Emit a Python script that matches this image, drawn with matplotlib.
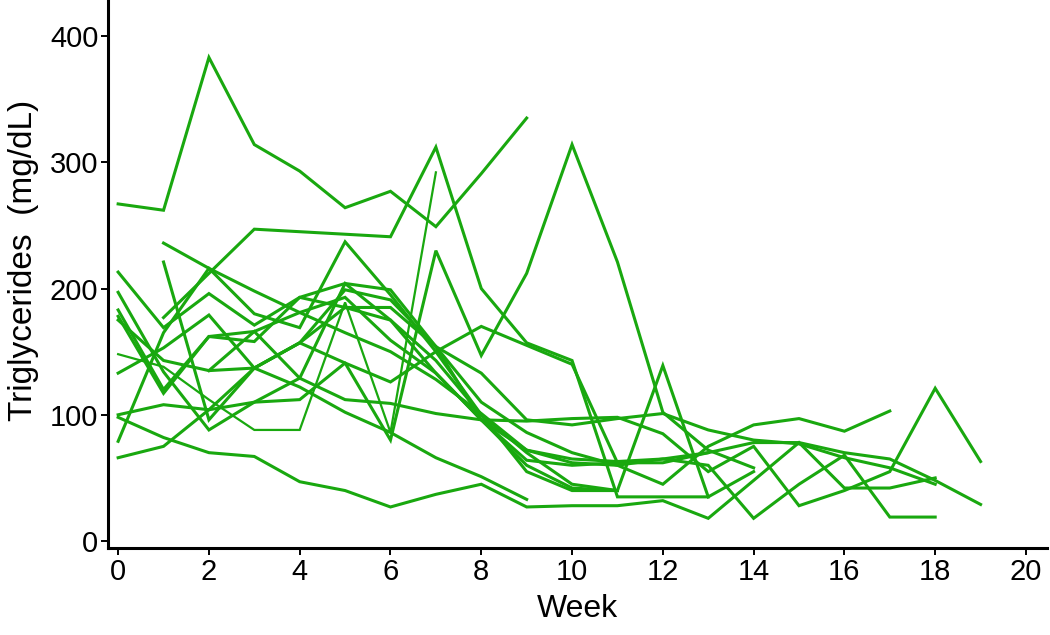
import numpy as np
import matplotlib.pyplot as plt

plt.rcParams['font.family'] = ['Liberation Sans', 'DejaVu Sans']

# triglyceride values (mg/dL) per subject, one value per week from its start week
start_01 = 0
tg_01 = [267, 262, 383, 314, 293, 264, 277, 249, 291, 335]
start_02 = 1
tg_02 = [177, 212, 247, 245, 243, 241, 312, 200, 157, 143, 35, 35, 35]
start_03 = 0
tg_03 = [213, 169, 196, 171, 193, 185, 175, 133, 96, 64, 60, 62]
start_04 = 1
tg_04 = [236, 216, 198, 181, 165, 150, 128, 101, 72, 62, 60, 45, 75, 92, 97, 87, 103]
start_05 = 1
tg_05 = [221, 96, 137, 157, 199, 191, 154, 96, 60, 42, 40]
start_06 = 0
tg_06 = [197, 134, 88, 110, 129, 204, 175, 143, 100, 55, 40, 40]
start_07 = 0
tg_07 = [183, 120, 162, 166, 181, 193, 159, 133, 96, 72, 65, 63, 65, 70, 78, 78, 70, 65, 48, 29]
start_08 = 0
tg_08 = [175, 143, 135, 137, 157, 141, 80, 230, 147, 212, 314, 221, 102, 72, 58]
start_09 = 0
tg_09 = [148, 138, 112, 88, 88, 189, 86, 292]
start_10 = 0
tg_10 = [133, 153, 179, 137, 122, 102, 86, 66, 51, 33]
start_11 = 0
tg_11 = [100, 108, 104, 110, 112, 141, 126, 150, 170, 155, 140, 62, 62, 70]
start_12 = 0
tg_12 = [98, 82, 70, 67, 47, 40, 27, 37, 45, 27, 28, 28, 32, 18, 48, 78, 42, 42, 50]
start_13 = 0
tg_13 = [79, 165, 216, 180, 169, 237, 195, 150, 100, 70, 45, 40, 139, 35, 55]
start_14 = 0
tg_14 = [66, 75, 104, 137, 157, 185, 185, 154, 133, 96, 92, 97, 101, 88, 80, 77, 66, 58, 45]
start_15 = 0
tg_15 = [178, 117, 162, 158, 193, 204, 199, 154, 110, 86, 70, 60, 65, 60, 18, 45, 68, 19, 19]
start_16 = 2
tg_16 = [135, 166, 129, 112, 109, 101, 96, 95, 97, 98, 85, 55, 75, 28, 40, 55, 121, 63]

subjects = [
    (start_01, tg_01), (start_02, tg_02), (start_03, tg_03), (start_04, tg_04),
    (start_05, tg_05), (start_06, tg_06), (start_07, tg_07), (start_08, tg_08),
    (start_09, tg_09), (start_10, tg_10), (start_11, tg_11), (start_12, tg_12),
    (start_13, tg_13), (start_14, tg_14), (start_15, tg_15), (start_16, tg_16),
]
thin = [9]  # subject drawn with a thinner stroke

fig = plt.figure(figsize=(10.5, 6.35), dpi=100)
ax = fig.add_axes([0.103, 0.137, 0.894, 0.863])

green = '#19a80f'
for i, (s, vals) in enumerate(subjects, start=1):
    weeks = np.arange(s, s + len(vals))
    lw = 1.6 if i in thin else 2.2
    ax.plot(weeks, vals, color=green, lw=lw, solid_joinstyle='miter')

ax.set_xlim(-0.22, 20.46)
ax.set_ylim(-5.5, 428.5)
ax.set_xticks(range(0, 21, 2))
ax.set_yticks(range(0, 401, 100))
ax.spines['top'].set_visible(False)
ax.spines['right'].set_visible(False)
for sp in ('left', 'bottom'):
    ax.spines[sp].set_linewidth(2.2)
ax.tick_params(direction='out', length=5, width=1.4, labelsize=21, pad=2)
ax.set_xlabel('Week', fontsize=23, labelpad=6)
ax.set_ylabel('Triglycerides  (mg/dL)', fontsize=24)
ax.yaxis.set_label_coords(-0.074, 0.524)

fig.savefig('out.png', dpi=100)
